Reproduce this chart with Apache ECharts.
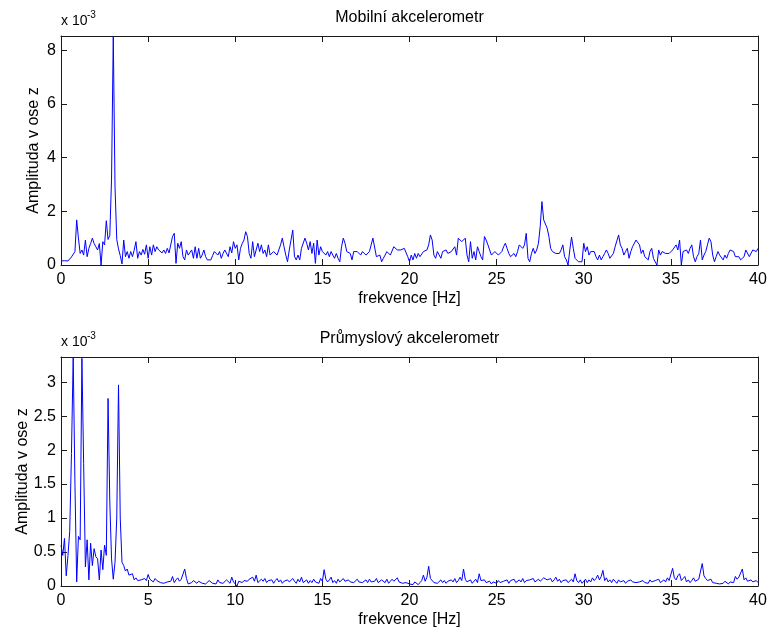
<!DOCTYPE html>
<html>
<head>
<meta charset="utf-8">
<script src="https://cdn.jsdelivr.net/npm/echarts@6/dist/echarts.min.js"></script>
<style>
  html, body { margin: 0; padding: 0; background: #ffffff; }
  #chart { width: 771px; height: 632px; }
</style>
</head>
<body>
<div id="chart"></div>
<script>
// Spectrum bins are spaced 0.1 Hz apart, starting at 0 Hz.
const freqStep = 0.1;
const xTicks = { min: 0, max: 40, interval: 5 };

// Amplitude spectra in units of 10^-3
const mobileAmp = [
  0.15, 0.18, 0.16, 0.20, 0.15, 0.22, 0.30, 0.25, 0.50, 1.68,
  1.00, 0.43, 0.56, 0.37, 0.93, 0.31, 0.62, 0.80, 1.00, 0.80,
  0.68, 0.56, 0.80, 0.00, 0.87, 0.75, 1.65, 0.95, 1.10, 3.20,
  8.53, 2.90, 0.95, 0.60, 0.35, 0.04, 0.93, 0.31, 0.50, 0.25,
  0.50, 0.31, 0.55, 0.87, 0.25, 0.50, 0.37, 0.58, 0.40, 0.75,
  0.25, 0.68, 0.37, 0.75, 0.50, 0.68, 0.56, 0.62, 0.45, 0.56,
  0.43, 0.62, 0.45, 0.50, 1.06, 1.18, 0.06, 0.81, 0.62, 0.87,
  0.31, 0.19, 0.56, 0.37, 0.31, 0.56, 0.25, 0.68, 0.25, 0.62,
  0.25, 0.37, 0.56, 0.31, 0.19, 0.12, 0.19, 0.35, 0.50, 0.43,
  0.37, 0.50, 0.25, 0.43, 0.56, 0.50, 0.31, 0.68, 0.45, 0.87,
  0.62, 0.75, 0.19, 0.62, 0.80, 0.93, 1.24, 1.06, 0.43, 0.25,
  0.87, 0.31, 0.25, 0.81, 0.50, 0.75, 0.43, 0.56, 0.31, 0.75,
  0.37, 0.31, 0.50, 0.56, 0.37, 0.56, 0.75, 1.00, 0.68, 0.37,
  0.12, 0.56, 0.93, 1.30, 0.31, 0.19, 0.37, 0.19, 0.62, 0.56,
  1.00, 0.81, 0.56, 0.87, 0.43, 0.81, 0.06, 0.93, 0.37, 0.68,
  0.50, 0.56, 0.37, 0.50, 0.31, 0.50, 0.37, 0.25, 0.43, 0.25,
  0.12, 0.68, 1.00, 0.81, 0.50, 0.56, 0.43, 0.19, 0.50, 0.43,
  0.50, 0.43, 0.37, 0.50, 0.50, 0.37, 0.43, 0.50, 0.75, 1.00,
  0.93, 0.31, 0.25, 0.37, 0.12, 0.25, 0.37, 0.50, 0.56, 0.37,
  0.43, 0.68, 0.62, 0.56, 0.50, 0.56, 0.50, 0.62, 0.56, 0.31,
  0.12, 0.37, 0.19, 0.43, 0.25, 0.43, 0.31, 0.37, 0.50, 0.56,
  0.56, 0.75, 1.12, 0.93, 0.37, 0.25, 0.50, 0.43, 0.25, 0.50,
  0.43, 0.56, 0.43, 0.37, 0.50, 0.56, 0.68, 0.37, 1.00, 0.93,
  0.87, 0.93, 1.00, 0.37, 0.12, 0.87, 0.25, 0.50, 0.19, 0.68,
  0.50, 0.31, 0.19, 1.06, 0.93, 0.75, 0.56, 0.37, 0.31, 0.50,
  0.43, 0.37, 0.43, 0.50, 0.68, 0.81, 0.62, 0.43, 0.31, 0.25,
  0.43, 0.31, 0.50, 0.75, 0.81, 0.62, 0.75, 1.18, 0.25, 0.12,
  0.43, 0.62, 0.43, 0.56, 0.81, 1.43, 2.36, 1.68, 1.75, 1.37,
  1.06, 0.62, 0.50, 0.50, 0.43, 0.50, 0.43, 0.56, 0.75, 0.31,
  0.19, 0.00, 0.56, 1.04, 0.62, 0.25, 0.19, 0.12, 0.19, 0.12,
  0.81, 0.50, 0.68, 0.37, 0.50, 0.43, 0.50, 0.31, 0.19, 0.37,
  0.19, 0.31, 0.43, 0.56, 0.43, 0.25, 0.31, 0.43, 0.68, 0.62,
  1.12, 0.75, 0.62, 0.37, 0.50, 0.62, 0.25, 0.50, 0.68, 0.75,
  0.93, 0.87, 0.75, 0.43, 0.56, 0.31, 0.37, 0.19, 0.50, 0.62,
  0.25, 0.12, 0.00, 0.56, 0.37, 0.50, 0.43, 0.43, 0.50, 0.43,
  0.50, 0.56, 0.62, 0.75, 0.56, 0.93, 0.00, 0.50, 0.43, 0.56,
  0.43, 0.62, 0.75, 0.31, 0.12, 0.31, 0.43, 0.93, 0.19, 0.37,
  0.50, 0.75, 1.00, 0.87, 0.37, 0.12, 0.31, 0.50, 0.37, 0.31,
  0.19, 0.37, 0.25, 0.43, 0.56, 0.62, 0.50, 0.31, 0.25, 0.31,
  0.19, 0.25, 0.31, 0.56, 0.50, 0.31, 0.37, 0.56, 0.62, 0.50,
  0.62
];

const industrialAmp = [
  0.60, 0.45, 0.70, 0.15, 0.45, 0.80, 1.95, 3.37, 1.50, 0.06,
  0.73, 0.68, 3.35, 1.80, 0.28, 0.68, 0.09, 0.63, 0.30, 0.55,
  0.43, 0.40, 0.09, 0.53, 0.24, 0.60, 0.45, 2.76, 1.25, 0.40,
  0.10, 0.35, 1.00, 2.96, 1.00, 0.35, 0.30, 0.22, 0.25, 0.16,
  0.14, 0.18, 0.09, 0.12, 0.08, 0.10, 0.09, 0.07, 0.11, 0.08,
  0.17, 0.10, 0.12, 0.06, 0.11, 0.08, 0.09, 0.05, 0.07, 0.04,
  0.05, 0.06, 0.08, 0.07, 0.14, 0.05, 0.09, 0.12, 0.07, 0.10,
  0.09, 0.25, 0.11, 0.03, 0.04, 0.05, 0.08, 0.06, 0.04, 0.07,
  0.09, 0.04, 0.06, 0.03, 0.05, 0.08, 0.10, 0.04, 0.06, 0.03,
  0.09, 0.05, 0.07, 0.04, 0.06, 0.09, 0.10, 0.04, 0.13, 0.06,
  0.03, 0.00, 0.07, 0.09, 0.05, 0.08, 0.06, 0.07, 0.10, 0.08,
  0.13, 0.07, 0.16, 0.05, 0.06, 0.10, 0.07, 0.11, 0.05, 0.08,
  0.06, 0.09, 0.04, 0.08, 0.11, 0.06, 0.09, 0.04, 0.07, 0.05,
  0.09, 0.06, 0.05, 0.11, 0.07, 0.04, 0.10, 0.06, 0.13, 0.05,
  0.07, 0.09, 0.04, 0.08, 0.05, 0.10, 0.06, 0.08, 0.04, 0.11,
  0.07, 0.24, 0.10, 0.06, 0.09, 0.13, 0.05, 0.08, 0.04, 0.10,
  0.06, 0.05, 0.11, 0.07, 0.05, 0.09, 0.06, 0.08, 0.05, 0.04,
  0.10, 0.06, 0.08, 0.05, 0.03, 0.09, 0.05, 0.10, 0.06, 0.08,
  0.07, 0.11, 0.05, 0.06, 0.09, 0.08, 0.05, 0.10, 0.04, 0.07,
  0.10, 0.07, 0.05, 0.12, 0.06, 0.06, 0.04, 0.03, 0.05, 0.04,
  0.03, 0.05, 0.02, 0.06, 0.04, 0.02, 0.05, 0.08, 0.16, 0.07,
  0.13, 0.29, 0.11, 0.09, 0.05, 0.07, 0.04, 0.06, 0.09, 0.05,
  0.08, 0.04, 0.07, 0.05, 0.09, 0.06, 0.11, 0.05, 0.08, 0.13,
  0.08, 0.25, 0.10, 0.06, 0.05, 0.09, 0.04, 0.07, 0.10, 0.05,
  0.18, 0.08, 0.06, 0.09, 0.05, 0.04, 0.07, 0.03, 0.06, 0.05,
  0.04, 0.08, 0.05, 0.03, 0.07, 0.06, 0.09, 0.04, 0.08, 0.06,
  0.10, 0.05, 0.07, 0.09, 0.06, 0.11, 0.05, 0.08, 0.06, 0.09,
  0.07, 0.11, 0.06, 0.08, 0.10, 0.07, 0.09, 0.12, 0.14, 0.09,
  0.08, 0.11, 0.06, 0.09, 0.13, 0.07, 0.10, 0.05, 0.08, 0.06,
  0.09, 0.05, 0.07, 0.10, 0.06, 0.18, 0.08, 0.05, 0.09, 0.04,
  0.07, 0.10, 0.05, 0.09, 0.06, 0.12, 0.08, 0.11, 0.16, 0.09,
  0.14, 0.23, 0.08, 0.12, 0.06, 0.09, 0.05, 0.10, 0.07, 0.04,
  0.09, 0.06, 0.05, 0.08, 0.04, 0.07, 0.05, 0.09, 0.06, 0.04,
  0.05, 0.03, 0.06, 0.04, 0.08, 0.05, 0.07, 0.04, 0.09, 0.06,
  0.05, 0.08, 0.06, 0.10, 0.05, 0.07, 0.09, 0.06, 0.12, 0.08,
  0.10, 0.26, 0.12, 0.09, 0.15, 0.18, 0.08, 0.11, 0.14, 0.06,
  0.09, 0.05, 0.08, 0.12, 0.07, 0.05, 0.10, 0.08, 0.33, 0.15,
  0.11, 0.08, 0.06, 0.10, 0.05, 0.07, 0.04, 0.06, 0.03, 0.05,
  0.04, 0.07, 0.05, 0.03, 0.06, 0.08, 0.05, 0.14, 0.10, 0.13,
  0.11, 0.25, 0.09, 0.12, 0.07, 0.05, 0.09, 0.06, 0.04, 0.08,
  0.05
];

const panelTitles = ['Mobilní akcelerometr', 'Průmyslový akcelerometr'];
const yTickStep = [2, 0.5];
const xLabel = 'frekvence [Hz]';
const yLabel = 'Amplituda v ose z';
const scaleMain = 'x 10';
const scaleExp = '-3';

const FONT = '"Liberation Sans", Arial, Helvetica, sans-serif';
const AXIS_COLOR = '#1a1a1a';
const LINE_COLOR = '#0000ff';

const toPairs = arr => arr.map((v, i) => [Math.round(i * freqStep * 10) / 10, v]);
const spectra = [mobileAmp, industrialAmp];

// Panel frames (pixel layout); the wider tick labels of the lower panel push its axis name further out
const panels = [
  { left: 61, top: 36, width: 697, height: 229, yNameGap: 19 },
  { left: 61, top: 357, width: 697, height: 229, yNameGap: 30 }
];

const chart = echarts.init(document.getElementById('chart'), null, { renderer: 'canvas' });

const grid = panels.map(p => ({ left: p.left, top: p.top, width: p.width, height: p.height, containLabel: false }));

const xAxis = [];
const yAxis = [];
const series = [];

panels.forEach((p, k) => {
  const ymax = Math.max(...spectra[k]);
  const tickStyle = { inside: true, length: 6, lineStyle: { color: AXIS_COLOR, width: 1 } };
  const lineStyle = { show: true, onZero: false, lineStyle: { color: AXIS_COLOR, width: 1 } };

  xAxis.push({
    type: 'value', gridIndex: k, position: 'bottom',
    min: xTicks.min, max: xTicks.max, interval: xTicks.interval,
    axisLine: lineStyle, axisTick: tickStyle,
    axisLabel: { color: '#000', fontSize: 16, fontFamily: FONT, margin: 7 },
    splitLine: { show: false },
    name: xLabel, nameLocation: 'middle', nameGap: 26,
    nameTextStyle: { color: '#000', fontSize: 16, fontFamily: FONT }
  });
  xAxis.push({
    type: 'value', gridIndex: k, position: 'top',
    min: xTicks.min, max: xTicks.max, interval: xTicks.interval,
    axisLine: lineStyle, axisTick: tickStyle,
    axisLabel: { show: false }, splitLine: { show: false }
  });

  yAxis.push({
    type: 'value', gridIndex: k, position: 'left',
    min: 0, max: ymax, interval: yTickStep[k],
    axisLine: lineStyle, axisTick: tickStyle,
    axisLabel: { color: '#000', fontSize: 16, fontFamily: FONT, margin: 5, showMaxLabel: false },
    splitLine: { show: false },
    name: yLabel, nameLocation: 'middle', nameGap: p.yNameGap, nameMoveOverlap: false,
    nameTextStyle: { color: '#000', fontSize: 16, fontFamily: FONT }
  });
  yAxis.push({
    type: 'value', gridIndex: k, position: 'right',
    min: 0, max: ymax, interval: yTickStep[k],
    axisLine: lineStyle, axisTick: tickStyle,
    axisLabel: { show: false }, splitLine: { show: false }
  });

  series.push({
    type: 'line',
    xAxisIndex: 2 * k, yAxisIndex: 2 * k,
    data: toPairs(spectra[k]),
    showSymbol: false, symbol: 'none',
    lineStyle: { color: LINE_COLOR, width: 1 },
    clip: true, silent: true
  });
});

// Panel titles and the x 10^-3 scale marker above each amplitude axis
const graphic = [];
panels.forEach((p, k) => {
  graphic.push({
    type: 'text', x: p.left + p.width / 2, y: p.top - 18,
    style: { text: panelTitles[k], font: '16px ' + FONT, fill: '#000', textAlign: 'center', textVerticalAlign: 'middle' }
  });
  graphic.push({
    type: 'text', x: p.left, y: p.top - 8,
    style: { text: scaleMain, font: '14px ' + FONT, fill: '#000', textAlign: 'left', textVerticalAlign: 'bottom' }
  });
  graphic.push({
    type: 'text', x: p.left + 26, y: p.top - 16,
    style: { text: scaleExp, font: '10px ' + FONT, fill: '#000', textAlign: 'left', textVerticalAlign: 'bottom' }
  });
});

chart.setOption({
  animation: false,
  backgroundColor: '#ffffff',
  grid, xAxis, yAxis, series, graphic
});
</script>
</body>
</html>
